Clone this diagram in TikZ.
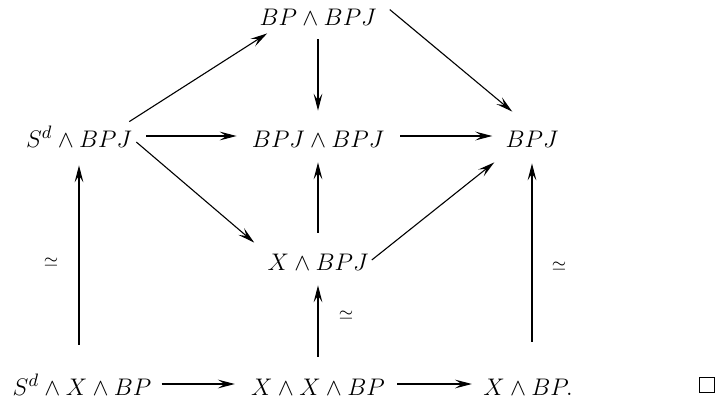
\documentclass[tikz,border=0pt]{standalone}
\usetikzlibrary{arrows.meta}
\begin{document}
\begin{tikzpicture}[x=0.5pt,y=-0.5pt,
  obj/.style={anchor=base,inner sep=2pt,text height=11pt,text depth=0pt,font=\fontsize{12.2}{14}\selectfont},
  map/.style={line width=0.55pt,-{Stealth[length=8.5pt,width=4.4pt,inset=3.4pt]}},
  lbl/.style={font=\fontsize{9}{10}\selectfont,inner sep=0pt}]
\useasboundingbox (0,0) rectangle (724,398);
% objects (x centre, baseline)
\node[obj] (bpbpj) at (318,25) {$BP\wedge BPJ$};
\node[obj] (sbpj)  at (79,147) {$S^d\wedge BPJ$};
\node[obj] (bpjbpj) at (318,147) {$BPJ\wedge BPJ$};
\node[obj] (bpj)   at (532,147) {$BPJ$};
\node[obj] (xbpj)  at (318,270) {$X\wedge BPJ$};
\node[obj] (sxbp)  at (82,395) {$S^d\wedge X\wedge BP$};
\node[obj] (xxbp)  at (318,395) {$X\wedge X\wedge BP$};
\node[obj] (xbp)   at (528,395) {$X\wedge BP.$};
\node[draw,line width=0.45pt,minimum size=7.2pt,inner sep=0pt] (qed) at (707,385) {};
% horizontal maps
\draw[map,shorten <=5pt,shorten >=5.5pt] (sbpj.east) -- (bpjbpj.west);
\draw[map,shorten <=6pt,shorten >=4.5pt] (bpjbpj.east) -- (bpj.west);
\draw[map,shorten <=3pt,shorten >=6pt] (sxbp.east) -- (xxbp.west);
\draw[map,shorten <=4pt,shorten >=3.5pt] (xxbp.east) -- (xbp.west);
% vertical maps
\draw[map,shorten <=5pt,shorten >=5pt] (bpbpj.south) -- (bpjbpj.north);
\draw[map,shorten <=5.5pt,shorten >=5.5pt] (xbpj.north) -- (bpjbpj.south);
\draw[map,shorten <=12pt,shorten >=7pt] (sbpj |- sxbp.north) -- (sbpj.south)
  node[lbl,pos=0.5,xshift=-14pt,yshift=-1pt] (e1) {$\simeq$};
\draw[map,shorten <=6pt,shorten >=5.5pt] (xxbp.north) -- (xbpj.south)
  node[lbl,pos=0.5,xshift=14pt,yshift=3pt] (e2) {$\simeq$};
\draw[map,shorten <=13.5pt,shorten >=6pt] (bpj |- xbp.north) -- (bpj.south)
  node[lbl,pos=0.5,xshift=13.5pt,yshift=-3pt] (e3) {$\simeq$};
% diagonal maps
\draw[map] ([shift={(-7,1)}]sbpj.north east) -- ([shift={(12,4)}]bpbpj.south west);
\draw[map] ([shift={(9,11)}]bpbpj.north east) -- ([shift={(11,-9)}]bpj.north west);
\draw[map] ([shift={(0,6)}]sbpj.east) -- ([shift={(-9,-1)}]xbpj.north west);
\draw[map] ([shift={(-1,1)}]xbpj.east) -- ([shift={(-7,11)}]bpj.south west);
\end{tikzpicture}
\end{document}
